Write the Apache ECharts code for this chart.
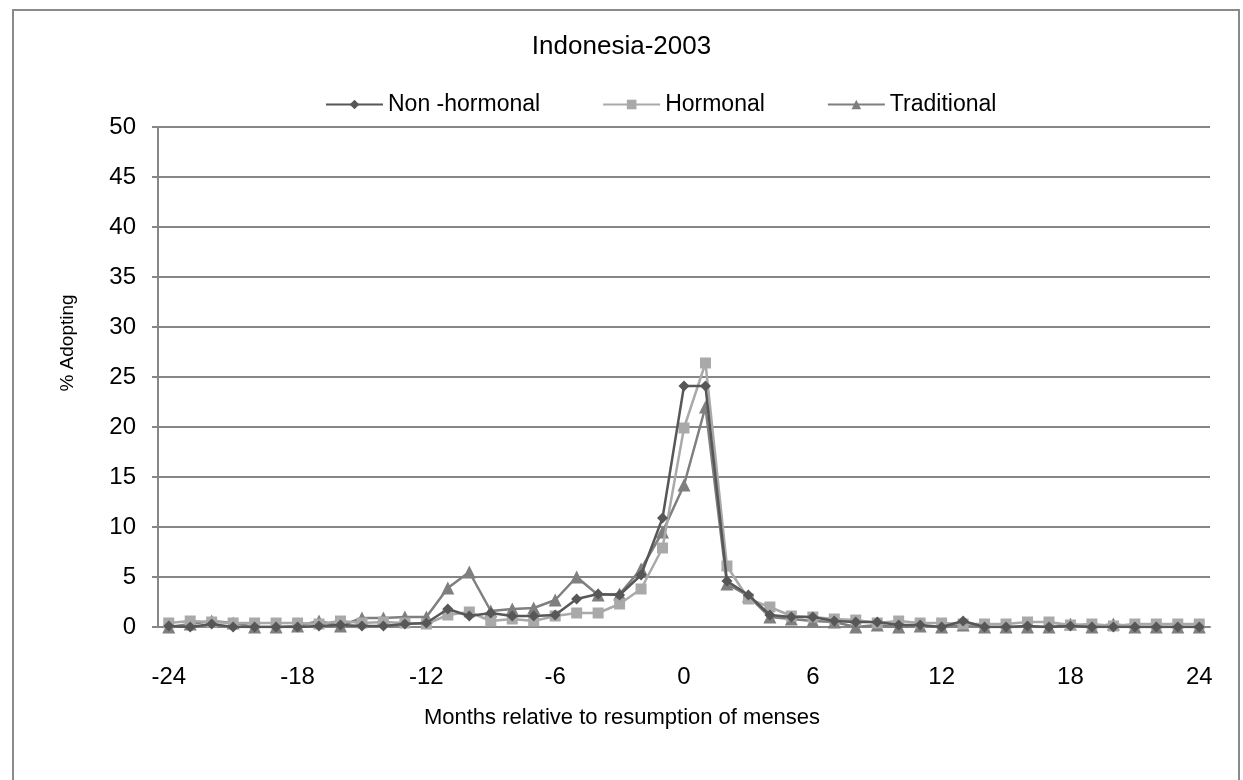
<!DOCTYPE html>
<html>
<head>
<meta charset="utf-8">
<script src="https://cdn.jsdelivr.net/npm/echarts@6/dist/echarts.min.js"></script>
<style>
  html, body { margin: 0; padding: 0; background: #fff; }
  #chart { width: 1243px; height: 780px; }
</style>
</head>
<body>
<div id="chart"></div>
<script>
// months relative to resumption of menses
var months = [];
for (var m = -24; m <= 24; m++) months.push(String(m));

var nonHormonal = [0.1, 0, 0.3, 0, 0, 0, 0, 0.1, 0.2, 0.1, 0.1, 0.3, 0.4,
  1.8, 1.1, 1.4, 1.1, 1.1, 1.2, 2.8, 3.3, 3.2, 5.2, 10.9, 24.1,
  24.1, 4.6, 3.2, 1.2, 1.0, 1.0, 0.6, 0.5, 0.5, 0.2, 0.2, 0, 0.6,
  0, 0, 0.1, 0, 0.1, 0, 0, 0, 0, 0, 0];
var hormonal = [0.4, 0.6, 0.5, 0.4, 0.4, 0.4, 0.4, 0.3, 0.6, 0.4, 0.5, 0.4, 0.3,
  1.2, 1.5, 0.6, 0.8, 0.6, 1.1, 1.4, 1.4, 2.3, 3.8, 7.9, 19.9,
  26.4, 6.1, 2.8, 2.0, 1.1, 1.0, 0.8, 0.7, 0.4, 0.6, 0.4, 0.4, 0.3,
  0.3, 0.3, 0.5, 0.5, 0.2, 0.3, 0.1, 0.3, 0.3, 0.3, 0.3];
var traditional = [0, 0.3, 0.6, 0.4, 0, 0, 0.1, 0.6, 0.1, 0.9, 0.9, 1.0, 1.0,
  3.9, 5.5, 1.6, 1.8, 1.9, 2.7, 5.0, 3.2, 3.3, 5.8, 9.5, 14.2,
  22.0, 4.3, 3.1, 1.0, 0.8, 0.6, 0.5, 0, 0.2, 0, 0.1, 0, 0.2,
  0, 0, 0, 0, 0.3, 0, 0.3, 0, 0, 0, 0];

var seriesNames = ['Non -hormonal', 'Hormonal', 'Traditional'];
var seriesColors = ['#575757', '#a9a9a9', '#7f7f7f'];
var seriesSymbols = ['diamond', 'rect', 'triangle'];
var seriesSizes = [11, 11, 13];
var seriesData = [nonHormonal, hormonal, traditional];

var chart = echarts.init(document.getElementById('chart'));

var series = seriesNames.map(function (name, i) {
  return {
    name: name,
    type: 'line',
    data: seriesData[i],
    symbol: seriesSymbols[i],
    symbolSize: seriesSizes[i],
    showAllSymbol: true,
    color: seriesColors[i],
    lineStyle: { width: 2.5, color: seriesColors[i] },
    itemStyle: { color: seriesColors[i] },
    z: 3 - i
  };
});

var option = {
  backgroundColor: '#fff',
  animation: false,
  textStyle: { fontFamily: 'Liberation Sans, Arial, sans-serif' },
  graphic: [{
    type: 'rect',
    shape: { x: 13, y: 10, width: 1226, height: 800 },
    style: { fill: 'none', stroke: '#8a8a8a', lineWidth: 2 },
    silent: true
  }, {
    // y axis title, centred where the original puts it
    type: 'text',
    x: 68,
    y: 343,
    rotation: Math.PI / 2,
    style: {
      text: '% Adopting',
      fill: '#000',
      font: '19px "Liberation Sans", Arial, sans-serif',
      align: 'center',
      verticalAlign: 'middle'
    },
    silent: true
  }],
  title: {
    text: 'Indonesia-2003',
    left: 'center',
    top: 29,
    textStyle: { fontSize: 26, fontWeight: 'normal', color: '#000' }
  },
  legend: {
    top: 88,
    left: 320,
    itemGap: 62,
    itemWidth: 57,
    itemHeight: 12,
    textStyle: { fontSize: 23, color: '#000' },
    data: seriesNames
  },
  grid: { left: 158, right: 33, top: 127, bottom: 153 },
  xAxis: {
    type: 'category',
    data: months,
    boundaryGap: true,
    name: 'Months relative to resumption of menses',
    nameLocation: 'middle',
    nameGap: 80,
    nameTextStyle: { fontSize: 22, color: '#000', padding: [0, 124, 0, 0] },
    axisLine: { lineStyle: { color: '#868686', width: 2 } },
    axisTick: { interval: 0, length: 6, lineStyle: { color: '#868686', width: 2 } },
    axisLabel: { interval: 5, margin: 38, fontSize: 24, color: '#000' },
    splitLine: { show: false }
  },
  yAxis: {
    type: 'value',
    min: 0,
    max: 50,
    interval: 5,
    axisLine: { show: true, lineStyle: { color: '#868686', width: 2 } },
    axisTick: { show: true, length: 6, lineStyle: { color: '#868686', width: 2 } },
    axisLabel: { margin: 22, fontSize: 24, color: '#000' },
    splitLine: { lineStyle: { color: '#868686', width: 2 } }
  },
  series: series
};

chart.setOption(option);
</script>
</body>
</html>
